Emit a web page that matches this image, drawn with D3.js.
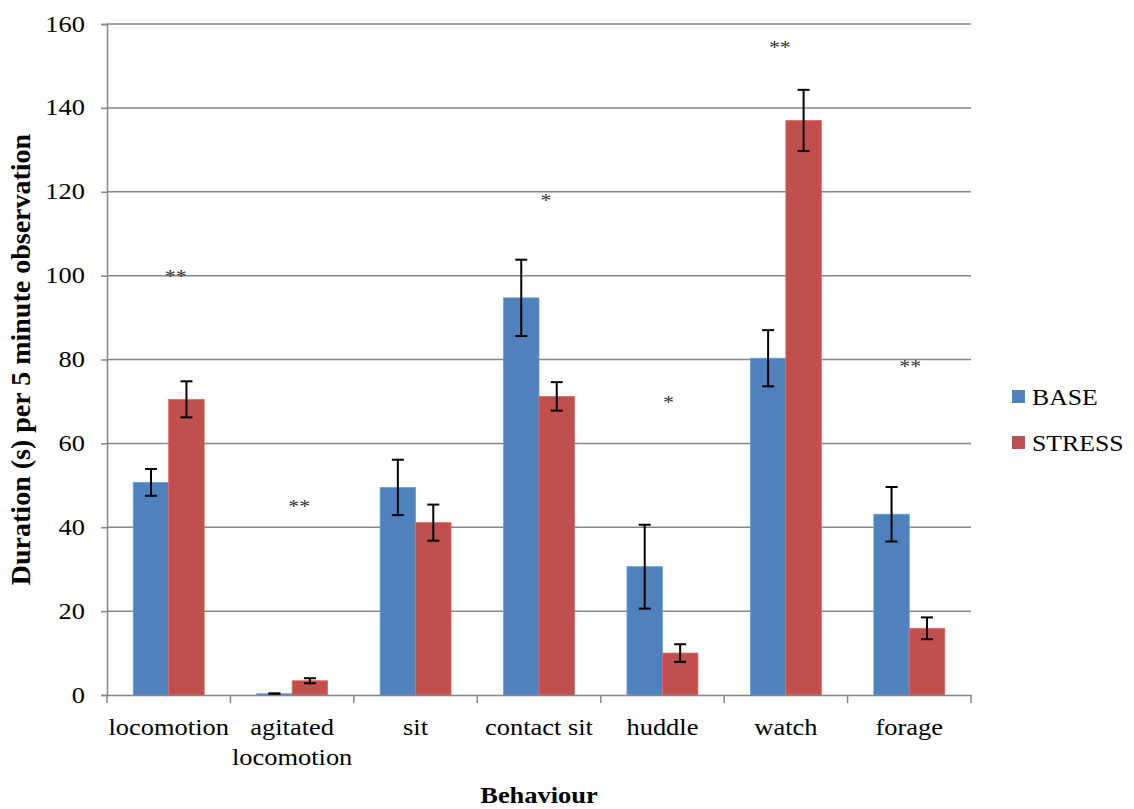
<!DOCTYPE html>
<html><head><meta charset="utf-8">
<script src="https://cdn.jsdelivr.net/npm/d3@7"></script>
<style>body{margin:0;background:#fff}svg{display:block}</style>
</head><body>
<svg id="chart" width="1134" height="809"></svg>
<script>
const categories = ["locomotion", "agitated locomotion", "sit", "contact sit", "huddle", "watch", "forage"];
const seriesNames = ["BASE", "STRESS"];
const baseValues = [50.7, 0.3, 49.5, 94.7, 30.6, 80.3, 43.1];
const baseErrors = [3.2, 0.1, 6.6, 9.1, 10.0, 6.7, 6.5];
const stressValues = [70.5, 3.4, 41.1, 71.2, 10.0, 137.0, 15.9];
const stressErrors = [4.3, 0.6, 4.3, 3.4, 2.1, 7.3, 2.6];
const significance = ["**", "**", "", "*", "*", "**", "**"];
const significanceY = [99.5, 44.5, null, 117.5, 69.5, 154, 78];
const yTicks = [0, 20, 40, 60, 80, 100, 120, 140, 160];
const colors = ["#4F81BD", "#C0504D"];

// layout: hand-placed annotation text boxes (horizontal nudge in px)
const annotationNudge = [7, 7, 0, 7, 6, -6, 1];

const svg = d3.select("#chart");
const m = {left: 107, right: 163, top: 24, bottom: 114};
const W = 1134, H = 809;
const x = d3.scaleBand().domain(categories).range([m.left, W - m.right]).padding(0);
const y = d3.scaleLinear().domain([0, 160]).range([H - m.bottom, m.top]);
const font = "'Liberation Serif','Times New Roman',serif";
const grid = "#868686";
const SX = 1.15;

function label(g, tx, ty, str, opts = {}) {
  return g.append("text")
    .attr("transform", `translate(${tx},${ty}) scale(${opts.sx || SX},1)`)
    .attr("text-anchor", opts.anchor || "middle")
    .attr("font-family", font)
    .attr("font-size", opts.size || 23)
    .attr("font-weight", opts.weight || "normal")
    .attr("fill", opts.fill || "#000")
    .text(str);
}

// gridlines
svg.append("g").selectAll("line").data(yTicks.filter(d => d > 0)).join("line")
  .attr("x1", m.left).attr("x2", W - m.right)
  .attr("y1", d => y(d)).attr("y2", d => y(d))
  .attr("stroke", grid).attr("stroke-width", 1.5);

// bars
const band = x.bandwidth();
const barW = band / 3.48;
const series = [
  {name: seriesNames[0], vals: baseValues, errs: baseErrors, color: colors[0], off: -barW},
  {name: seriesNames[1], vals: stressValues, errs: stressErrors, color: colors[1], off: 0}
];
series.forEach(s => {
  const data = categories.map((c, i) => ({c, v: s.vals[i], e: s.errs[i]}));
  const g = svg.append("g");
  g.selectAll("rect").data(data).join("rect")
    .attr("x", d => x(d.c) + band / 2 + s.off)
    .attr("y", d => y(d.v))
    .attr("width", barW)
    .attr("height", d => y(0) - y(d.v))
    .attr("fill", s.color)
    .attr("stroke", d3.color(s.color).brighter(0.6))
    .attr("stroke-width", 0.8);
  const eg = svg.append("g").attr("stroke", "#000").attr("stroke-width", 2);
  data.forEach(d => {
    const cx = x(d.c) + band / 2 + s.off + barW / 2;
    eg.append("line").attr("x1", cx).attr("x2", cx).attr("y1", y(d.v + d.e)).attr("y2", y(d.v - d.e));
    [d.v + d.e, d.v - d.e].forEach(v => eg.append("line")
      .attr("x1", cx - 6).attr("x2", cx + 6).attr("y1", y(v)).attr("y2", y(v)));
  });
});

// axes
const yAxis = d3.axisLeft(y).tickValues(yTicks).tickSize(6).tickFormat("");
const gy = svg.append("g").attr("transform", `translate(${m.left},0)`).call(yAxis);
gy.select(".domain").attr("stroke", grid).attr("stroke-width", 1.5);
gy.selectAll(".tick line").attr("stroke", grid).attr("stroke-width", 1.5);
const yl = svg.append("g");
yTicks.forEach(t => label(yl, 85, y(t) + 7.5, String(t), {anchor: "end"}));

const xAxis = d3.axisBottom(x).tickSize(0).tickFormat("");
const gx = svg.append("g").attr("transform", `translate(0,${y(0)})`).call(xAxis);
gx.select(".domain").attr("stroke", grid).attr("stroke-width", 1.5);
const edges = categories.map(c => x(c)).concat([x(categories[categories.length - 1]) + band]);
svg.append("g").selectAll("line").data(edges).join("line")
  .attr("x1", d => d).attr("x2", d => d).attr("y1", y(0)).attr("y2", y(0) + 8)
  .attr("stroke", grid).attr("stroke-width", 1.5);

// category labels
const wrap = {"agitated locomotion": ["agitated", "locomotion"]};
const xl = svg.append("g");
categories.forEach(c => {
  const lines = wrap[c] || [c];
  lines.forEach((l, i) => label(xl, x(c) + band / 2, y(0) + 40 + i * 30, l));
});

// significance markers
const sg = svg.append("g");
categories.forEach((c, i) => {
  if (!significance[i]) return;
  label(sg, x(c) + band / 2 + annotationNudge[i], y(significanceY[i]) + 5, significance[i], {size: 19, fill: "#333"});
});

// axis titles
label(svg, (m.left + W - m.right) / 2, 803, "Behaviour", {weight: "bold"});
svg.append("text").attr("transform", `translate(30,${(m.top + H - m.bottom) / 2}) rotate(-90)`)
  .attr("text-anchor", "middle").attr("font-family", font).attr("font-size", 28).attr("font-weight", "bold")
  .text("Duration (s) per 5 minute observation");

// legend
const lg = svg.append("g").attr("transform", "translate(1012,390)");
seriesNames.forEach((n, i) => {
  lg.append("rect").attr("x", 0).attr("y", i * 46).attr("width", 13).attr("height", 13).attr("fill", colors[i]);
  label(lg, 20, i * 46 + 15, n, {anchor: "start", sx: 1.12});
});
</script>
</body></html>
